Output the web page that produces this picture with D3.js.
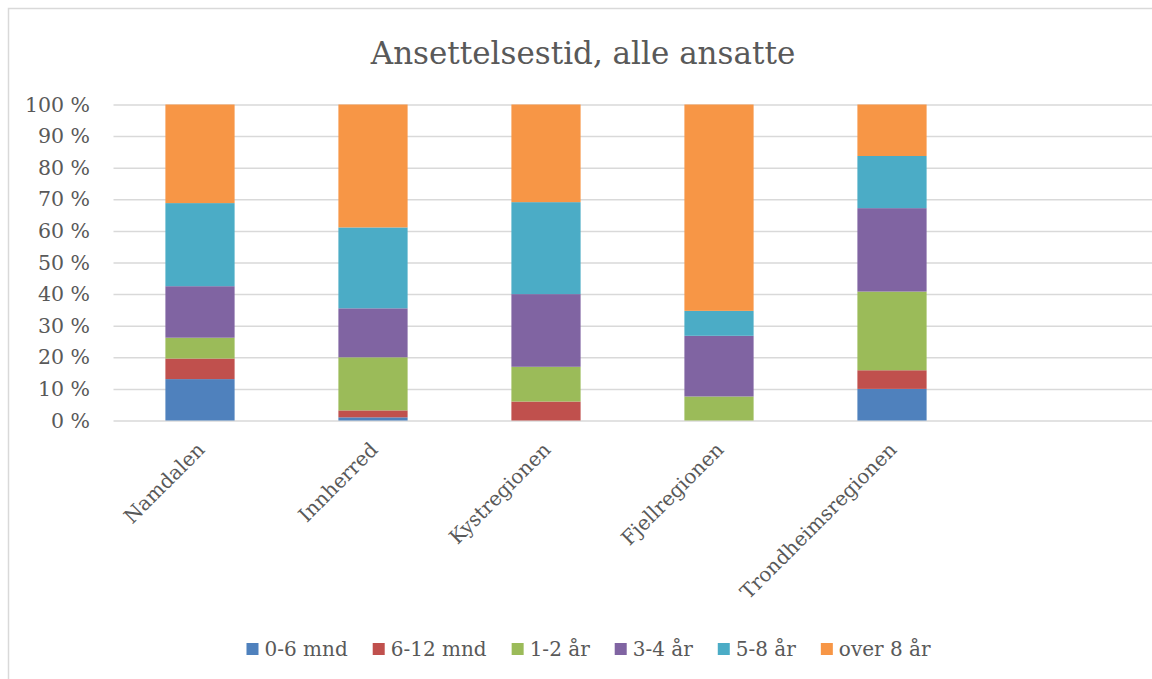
<!DOCTYPE html>
<html>
<head>
<meta charset="utf-8">
<script src="https://cdn.jsdelivr.net/npm/d3@7"></script>
<style>
  body { margin: 0; background: #fff; }
  svg { display: block; font-family: "DejaVu Serif", serif; }
</style>
</head>
<body>
<div class="chart"></div>
<script>
const title = "Ansettelsestid, alle ansatte";
const categories = ["Namdalen", "Innherred", "Kystregionen", "Fjellregionen", "Trondheimsregionen"];
const seriesNames = ["0-6 mnd", "6-12 mnd", "1-2 år", "3-4 år", "5-8 år", "over 8 år"];
const colors = ["#4F81BD", "#C0504D", "#9BBB59", "#8064A2", "#4BACC6", "#F79646"];

// percent per category, one array per series
const mnd0_6  = [13.1, 1.0, 0.0, 0.0, 10.0];
const mnd6_12 = [6.5, 2.2, 6.0, 0.0, 5.9];
const aar1_2  = [6.6, 16.8, 11.0, 7.6, 24.9];
const aar3_4  = [16.3, 15.5, 23.0, 19.2, 26.4];
const aar5_8  = [26.3, 25.6, 29.1, 7.9, 16.5];
const over8   = [31.2, 38.9, 30.9, 65.3, 16.3];
const yTicks  = [0, 10, 20, 30, 40, 50, 60, 70, 80, 90, 100];

const seriesValues = [mnd0_6, mnd6_12, aar1_2, aar3_4, aar5_8, over8];

const width = 1152, height = 679;
const margin = { top: 104.5, right: 0.5, bottom: 258.5, left: 113.5 };

const rows = categories.map((c, i) => {
  const r = { cat: c };
  seriesNames.forEach((s, j) => r[s] = seriesValues[j][i]);
  return r;
});
const stacked = d3.stack().keys(seriesNames)(rows);

const svg = d3.select(".chart")
  .append("svg")
  .attr("width", width)
  .attr("height", height);

// chart frame (cut off at right and bottom like the reference)
svg.append("rect")
  .attr("x", 8.5).attr("y", 8.5)
  .attr("width", 1160).attr("height", 700)
  .attr("fill", "#fff")
  .attr("stroke", "#d9d9d9")
  .attr("stroke-width", 1.5);

// empty sixth slot on the category axis
const x = d3.scaleBand()
  .domain(categories.concat([""]))
  .range([margin.left, width - margin.right])
  .paddingInner(0.6)
  .paddingOuter(0.3);

const y = d3.scaleLinear()
  .domain([0, 100])
  .range([height - margin.bottom, margin.top]);

svg.append("text")
  .attr("x", 583)
  .attr("y", 64)
  .attr("text-anchor", "middle")
  .attr("fill", "#595959")
  .attr("font-size", 31)
  .text(title);

// gridlines
svg.append("g")
  .attr("transform", `translate(${margin.left},0)`)
  .call(d3.axisLeft(y).tickValues(yTicks).tickSize(-(width - margin.left + 20)).tickFormat(""))
  .call(g => g.select(".domain").remove())
  .call(g => g.selectAll("line").attr("stroke", "#d9d9d9").attr("stroke-width", 1.5));

// y labels
svg.append("g")
  .attr("transform", `translate(90,0)`)
  .call(d3.axisLeft(y).tickValues(yTicks).tickSize(0).tickPadding(0).tickFormat(d => d + " %"))
  .call(g => g.select(".domain").remove())
  .call(g => g.selectAll("text")
    .attr("fill", "#595959")
    .attr("font-size", 20.5)
    .attr("font-family", "DejaVu Serif"));

svg.append("g")
  .selectAll("g")
  .data(stacked)
  .join("g")
  .attr("fill", (d, i) => colors[i])
  .selectAll("rect")
  .data(d => d)
  .join("rect")
  .attr("x", d => x(d.data.cat))
  .attr("y", d => y(d[1]))
  .attr("height", d => y(d[0]) - y(d[1]))
  .attr("width", x.bandwidth());

// x labels
svg.append("g")
  .selectAll("text")
  .data(categories)
  .join("text")
  .attr("transform", d => `translate(${x(d) + x.bandwidth() / 2 + 1},446) rotate(-45)`)
  .attr("text-anchor", "end")
  .attr("dy", "0.35em")
  .attr("fill", "#595959")
  .attr("font-size", 20)
  .text(d => d);

// legend
const legend = svg.append("g").attr("transform", "translate(0,649)");
let lx = 0;
const items = legend.selectAll("g")
  .data(seriesNames)
  .join("g");
items.append("rect")
  .attr("y", -6).attr("width", 12).attr("height", 12)
  .attr("fill", (d, i) => colors[i]);
items.append("text")
  .attr("x", 18).attr("dy", "0.35em")
  .attr("fill", "#595959")
  .attr("font-size", 20)
  .text(d => d);
items.each(function () {
  const w = this.querySelector("text").getComputedTextLength() + 18;
  d3.select(this).attr("transform", `translate(${lx},0)`);
  lx += w + 25;
});
legend.attr("transform", `translate(${588.5 - (lx - 25) / 2},649)`);
</script>
</body>
</html>
